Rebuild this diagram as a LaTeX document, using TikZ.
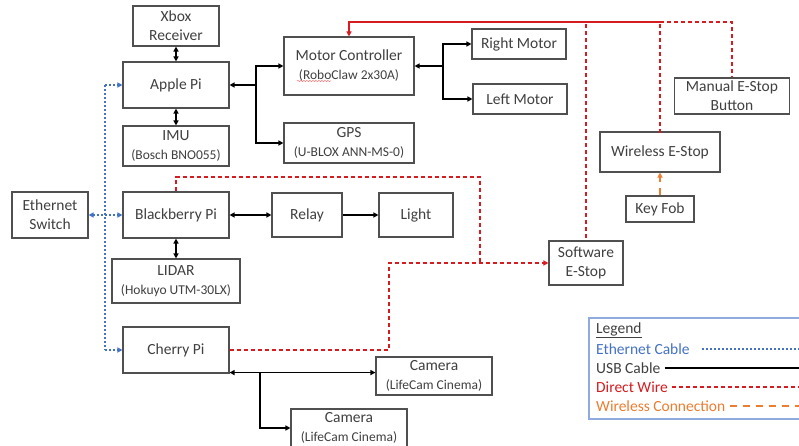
\documentclass[tikz,border=0pt]{standalone}
\usepackage{fontspec}
\setmainfont{Carlito}
\usetikzlibrary{arrows.meta,decorations.pathmorphing,decorations.markings}
\definecolor{txt}{RGB}{64,64,64}
\definecolor{bord}{RGB}{80,80,80}
\definecolor{wred}{RGB}{214,28,32}
\definecolor{eblue}{RGB}{68,114,196}
\definecolor{wor}{RGB}{237,125,49}
\definecolor{lgb}{RGB}{143,170,220}
\tikzset{
  box/.style={draw=bord, line width=1.1pt, fill=white, text=txt, align=center, inner sep=0pt, font=\fontsize{15.5}{19}\selectfont},
  usb/.style={line width=1.5pt, black},
  tip/.style={-{Triangle[length=5pt,width=5pt]}},
  tips/.style={{Triangle[length=5pt,width=5pt]}-{Triangle[length=5pt,width=5pt]}},
  tipl/.style={{Triangle[length=5pt,width=5pt]}-},
  ether/.style={draw=eblue, line width=2pt, dash pattern=on 2pt off 2pt},
  wire/.style={draw=wred, line width=2pt, dash pattern=on 4pt off 3pt},
  mwire/.style={postaction={decorate}, decoration={markings, mark=between positions 0 and 1 step 7pt with {\fill[wred] (0pt,-1pt) rectangle (4pt,1pt);}}},
  wsolid/.style={draw=wred, line width=2pt},
  wless/.style={draw=wor, line width=2pt, dash pattern=on 7pt off 6pt},
  lgtext/.style={anchor=west, inner sep=0pt, font=\fontsize{15.5}{19}\selectfont}
}
\newcommand{\subt}[1]{{\fontsize{13.5}{19}\selectfont #1}}
\begin{document}
\begin{tikzpicture}[x=1pt,y=-1pt]
\clip (0,0) rectangle (799,446);
\fill[white] (0,0) rectangle (799,446);

% boxes
\node[box, minimum width=86pt, minimum height=40pt] (xbox) at (176,26) {Xbox\\Receiver};
\node[box, minimum width=106pt, minimum height=46pt] (apple) at (176,85) {Apple Pi};
\node[box, minimum width=106pt, minimum height=40pt] (imu) at (176,146) {IMU\\\subt{(Bosch BNO055)}};
\node[box, minimum width=130pt, minimum height=58pt] (mc) at (349,66) {Motor Controller\\\subt{(RoboClaw 2x30A)}};
\node[box, minimum width=130pt, minimum height=40pt] (gps) at (349,143) {GPS\\\subt{(U-BLOX ANN-MS-0)}};
\node[box, minimum width=76pt, minimum height=46pt] (eth) at (50,215) {Ethernet\\Switch};
\node[box, minimum width=106pt, minimum height=46pt] (bb) at (176,215) {Blackberry Pi};
\node[box, minimum width=70pt, minimum height=44pt] (relay) at (307,215) {Relay};
\node[box, minimum width=74pt, minimum height=44pt] (light) at (416,215) {Light};
\node[box, minimum width=94pt, minimum height=30pt] (rm) at (519,44) {Right Motor};
\node[box, minimum width=94pt, minimum height=30pt] (lm) at (520,99) {Left Motor};
\node[box, minimum width=115pt, minimum height=36pt] (manual) at (732,96) {Manual E-Stop\\Button};
\node[box, minimum width=120pt, minimum height=40pt] (wireless) at (660,152) {Wireless E-Stop};
\node[box, minimum width=68pt, minimum height=26pt] (keyfob) at (660,209) {Key Fob};
\node[box, minimum width=74pt, minimum height=44pt] (sw) at (586,263) {Software\\E-Stop};
\node[box, minimum width=128pt, minimum height=44pt] (lidar) at (176,281) {LIDAR\\\subt{(Hokuyo UTM-30LX)}};
\node[box, minimum width=106pt, minimum height=46pt] (cherry) at (176,350) {Cherry Pi};
\node[box, minimum width=116pt, minimum height=38pt] (cam1) at (434,376) {Camera\\\subt{(LifeCam Cinema)}};
\node[box, minimum width=116pt, minimum height=38pt] (cam2) at (349,428) {Camera\\\subt{(LifeCam Cinema)}};

% spellcheck underline
\draw[red!55, line width=0.5pt, decorate, decoration={snake, amplitude=0.6pt, segment length=3pt}] (297,81) -- (331,81);

% USB connectors
\draw[usb, tips] (xbox) -- (apple);
\draw[usb, tips] (apple) -- (imu);
\draw[usb, tips] (bb) -- (lidar);
\coordinate (ja) at (256,85);
\draw[usb, tipl] (apple.east) -- (ja);
\draw[usb, tip] (ja) |- (mc.west);
\draw[usb, tip] (ja) |- (gps.west);
\coordinate (jm) at (443,66);
\draw[usb, tipl] (mc.east) -- (jm);
\draw[usb, tip] (jm) |- (rm.west);
\draw[usb, tip] (jm) |- (lm.west);
\draw[usb, tips] (bb.east) -- (relay.west);
\draw[usb, tip] (relay.east) -- (light.west);
\coordinate (cc) at ([yshift=1pt]cherry.south east);
\coordinate (jc) at (260,372);
\draw[usb, tips] (cc) -- (cam1.west |- cc);
\draw[usb, tip] (jc) |- (cam2.west);

% Ethernet
\coordinate (je) at (105,215);
\draw[ether, tipl] (eth.east) -- (je);
\draw[ether] (105,85) -- (105,350);
\draw[ether, tip] (je |- apple.west) -- (apple.west);
\draw[ether, tip] (je |- bb.west) -- (bb.west);
\draw[ether, tip] (je |- cherry.west) -- (cherry.west);

% Direct wires
\draw[wire] (bb.north) -- (176,177) -| (480,263);
\draw[wire, tip] (cherry.east) -| (389,263) -- (sw.west);
\coordinate (top) at (660,22);
\coordinate (st) at (586,24);
\coordinate (wt) at (660,24);
\draw[wsolid, tip] (top) -| (mc.north);
\path[mwire] (st) -- (sw.north);
\path[mwire] (wt) -- (wireless.north);
\draw[wire] (top) -| (manual.north);

% wireless
\draw[wless, tip] (keyfob.north) -- (wireless.south);

% legend
\draw[lgb, line width=1.2pt] (589,318) rectangle (830,419);
\node[lgtext, text=txt] (lg) at (596,330) {\underline{Legend}};
\node[lgtext, text=eblue] (le) at (596,349) {Ethernet Cable};
\node[lgtext, text=txt] (lu) at (596,368) {USB Cable};
\node[lgtext, text=wred] (ld) at (596,387) {Direct Wire};
\node[lgtext, text=wor] (lw) at (596,406) {Wireless Connection};
\draw[ether] ([xshift=12pt]le.east) -- (810,349);
\draw[usb] ([xshift=4pt]lu.east) -- (810,368);
\draw[wire] ([xshift=4pt]ld.east) -- (810,387);
\draw[wless] ([xshift=4pt]lw.east) -- (810,406);
\end{tikzpicture}
\end{document}
